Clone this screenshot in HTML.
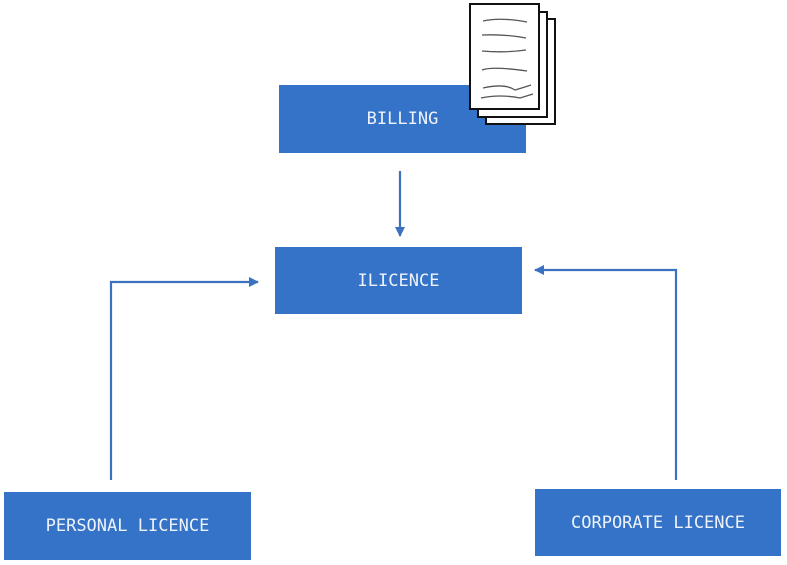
<!DOCTYPE html>
<html><head><meta charset="utf-8"><style>
html,body{margin:0;padding:0;background:#fff;}
body{width:787px;height:565px;overflow:hidden;position:relative;}
.b{position:absolute;background:#3473c7;color:#eef3fb;font-family:"DejaVu Sans Mono","Liberation Mono",monospace;font-size:17px;display:flex;align-items:center;justify-content:center;}
svg{position:absolute;left:0;top:0;}
</style></head><body>
<div class="b" style="left:279px;top:85px;width:247px;height:68px;">BILLING</div>
<div class="b" style="left:275px;top:247px;width:247px;height:67px;">ILICENCE</div>
<div class="b" style="left:4px;top:492px;width:247px;height:68px;">PERSONAL LICENCE</div>
<div class="b" style="left:535px;top:489px;width:246px;height:67px;">CORPORATE LICENCE</div>
<svg width="787" height="565">
<defs><marker id="a" markerWidth="10" markerHeight="10" refX="9" refY="5" orient="auto" markerUnits="userSpaceOnUse"><path d="M0,0 L10,5 L0,10 z" fill="#3b72bf"/></marker></defs>
<g stroke="#3b72bf" stroke-width="2.2" fill="none">
<line x1="400" y1="171" x2="400" y2="236" marker-end="url(#a)"/>
<polyline points="111,480 111,282 258,282" marker-end="url(#a)"/>
<polyline points="676,480 676,270 535,270" marker-end="url(#a)"/>
</g>
<g stroke="#111" stroke-width="2" fill="#fff">
<rect x="486" y="19" width="69" height="105"/>
<rect x="478" y="12" width="69" height="105"/>
<rect x="470" y="4" width="69" height="105"/>
</g>
<g stroke="#555" stroke-width="1.3" fill="none">
<path d="M483,21 Q500,17 527,22"/>
<path d="M482,35 Q505,34 526,38"/>
<path d="M482,51 Q505,53 526,50"/>
<path d="M482,70 Q492,66 527,71"/>
<path d="M483,88 Q505,83 515,90 Q522,88 531,85"/>
<path d="M481,98 Q500,94 520,98 L533,94"/>
</g>
</svg>
</body></html>
